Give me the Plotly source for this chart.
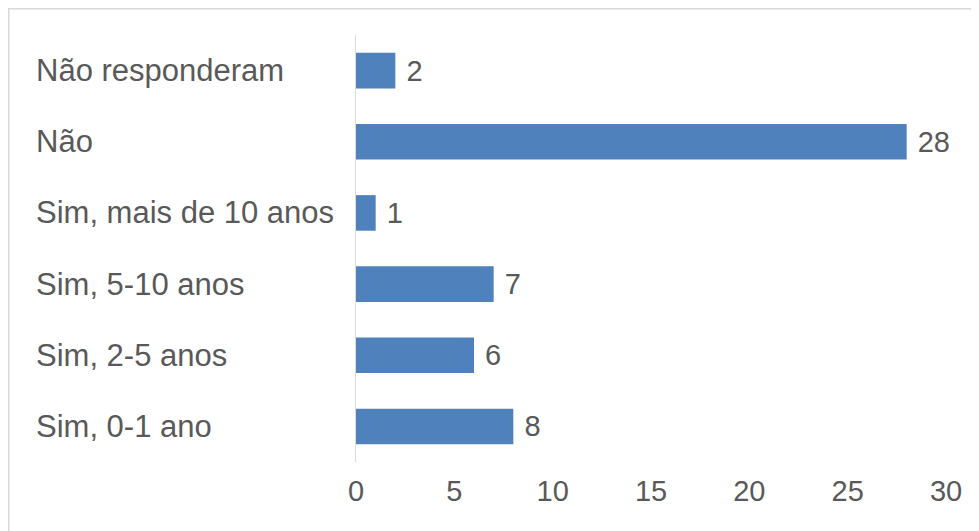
import plotly.graph_objects as go

categories = ["Sim, 0-1 ano", "Sim, 2-5 anos", "Sim, 5-10 anos",
              "Sim, mais de 10 anos", "Não", "Não responderam"]
values = [8, 6, 7, 1, 28, 2]
x_ticks = [0, 5, 10, 15, 20, 25, 30]

# page body has an 8px margin, so the figure starts at (8, 8)
W, H = 971, 523
L, R, T, B = 348, 33, 27, 69
pw = W - L - R
ph = H - T - B

font_family = "Liberation Sans, Arial, sans-serif"
text_color = "#595959"

fig = go.Figure(go.Bar(
    y=categories, x=values, orientation="h",
    marker=dict(color="#4F81BD", line=dict(width=0)),
    text=[" " + str(v) for v in values], textposition="outside",
    textfont=dict(family=font_family, size=29, color=text_color),
    cliponaxis=False, width=0.5,
))

annotations = [
    dict(x=(26 - L) / pw, y=c, xref="paper", yref="y", text=c,
         showarrow=False, xanchor="left", yanchor="middle",
         font=dict(family=font_family, size=31, color=text_color))
    for c in categories
]

fig.update_layout(
    width=W, height=H,
    margin=dict(l=L, r=R, t=T, b=B),
    paper_bgcolor="white", plot_bgcolor="white",
    showlegend=False,
    annotations=annotations,
    xaxis=dict(range=[0, 30], tickvals=x_ticks, showgrid=False,
               zeroline=False, showline=False, ticks="",
               ticklabelstandoff=9,
               tickfont=dict(family=font_family, size=29, color=text_color)),
    yaxis=dict(categoryorder="array", categoryarray=categories,
               range=[-0.5, 5.5], showticklabels=False, showgrid=False,
               zeroline=False, showline=True, linecolor="#D9D9D9",
               linewidth=1, ticks=""),
    shapes=[
        dict(type="line", xref="paper", yref="paper",
             x0=(0 - L) / pw, x1=(W + 10 - L) / pw,
             y0=(H - B - 0.75) / ph, y1=(H - B - 0.75) / ph,
             line=dict(color="#D9D9D9", width=1.5)),
        dict(type="line", xref="paper", yref="paper",
             x0=(0.75 - L) / pw, x1=(0.75 - L) / pw,
             y0=(H - B) / ph, y1=-(B + 10) / ph,
             line=dict(color="#D9D9D9", width=1.5)),
    ],
)

fig.write_html("out.html")
